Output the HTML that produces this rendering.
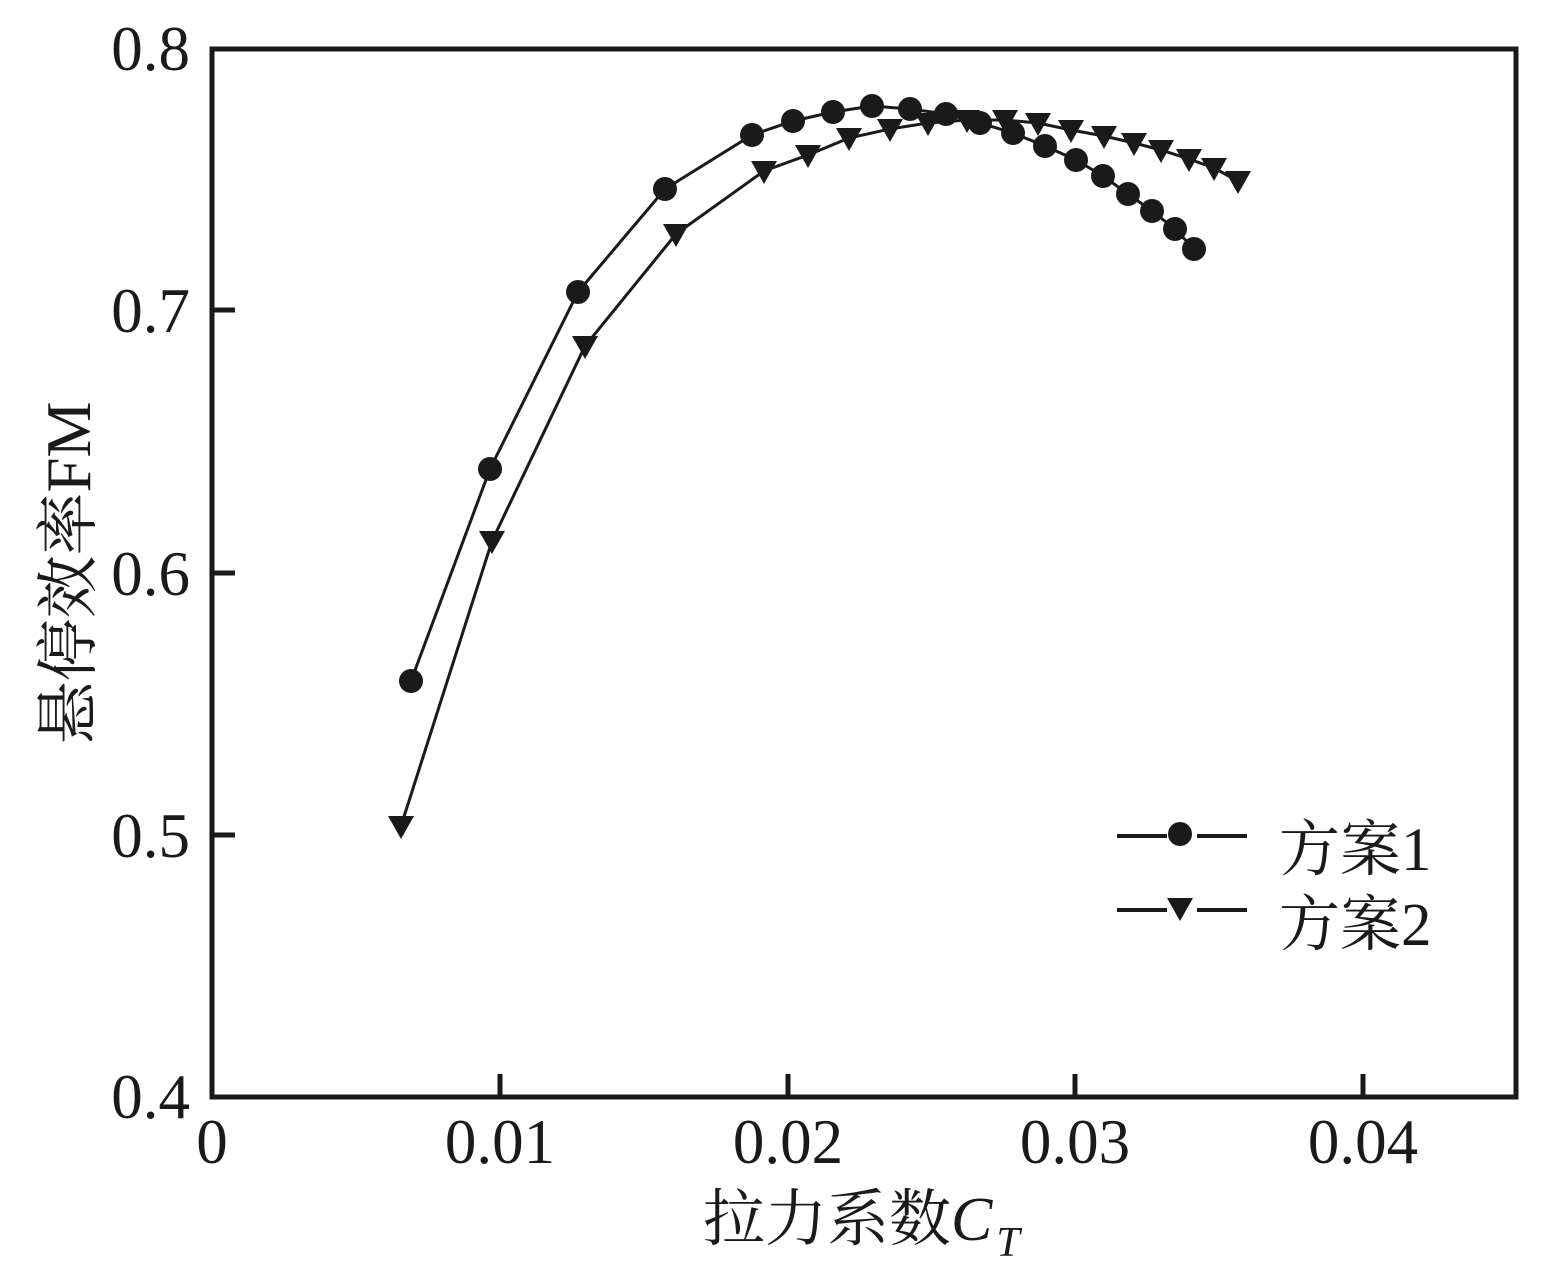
<!DOCTYPE html>
<html><head><meta charset="utf-8"><style>
html,body{margin:0;padding:0;background:#fff;}
svg text{font-family:"Liberation Serif","Noto Serif CJK SC",serif;fill:#1a1a1a;}
</style></head><body>
<svg width="1567" height="1282" viewBox="0 0 1567 1282" xmlns="http://www.w3.org/2000/svg">
<rect x="212" y="49" width="1304" height="1048" fill="none" stroke="#1a1a1a" stroke-width="5"/>
<g stroke="#1a1a1a" stroke-width="5">
<line x1="500" y1="1097" x2="500" y2="1074"/>
<line x1="788" y1="1097" x2="788" y2="1074"/>
<line x1="1075" y1="1097" x2="1075" y2="1074"/>
<line x1="1363" y1="1097" x2="1363" y2="1074"/>
<line x1="212" y1="310" x2="235" y2="310"/>
<line x1="212" y1="573" x2="235" y2="573"/>
<line x1="212" y1="835" x2="235" y2="835"/>
</g>
<g font-size="63" text-anchor="end">
<text x="190" y="70">0.8</text>
<text x="190" y="332">0.7</text>
<text x="190" y="595">0.6</text>
<text x="190" y="857">0.5</text>
<text x="190" y="1118">0.4</text>
</g>
<g font-size="63" text-anchor="middle">
<text x="212" y="1163">0</text>
<text x="500" y="1163">0.01</text>
<text x="788" y="1163">0.02</text>
<text x="1075" y="1163">0.03</text>
<text x="1363" y="1163">0.04</text>
</g>
<text x="703" y="1240" font-size="62">拉力系数<tspan font-style="italic">C</tspan><tspan font-style="italic" font-size="42" dy="16" dx="4">T</tspan></text>
<text transform="translate(90,573) rotate(-90)" font-size="63" text-anchor="middle">悬停效率FM</text>
<polyline fill="none" stroke="#1a1a1a" stroke-width="3" points="411,681 490,469 578,292 665,189 752,135 793,121 833,112 872,106 910,109 946,114 980,123 1013,133 1045,146 1076,160 1103,176 1128,194 1152,211 1175,229 1194,249"/>
<polyline fill="none" stroke="#1a1a1a" stroke-width="3" points="401,826 492,541 585,346 676,234 764,171 808,155 849,138 890,129 928,123 967,120 1005,120 1038,123 1071,130 1104,136 1134,143 1161,150 1189,159 1214,168 1238,181"/>
<g fill="#1a1a1a">
<circle cx="411" cy="681" r="12"/><circle cx="490" cy="469" r="12"/><circle cx="578" cy="292" r="12"/><circle cx="665" cy="189" r="12"/><circle cx="752" cy="135" r="12"/><circle cx="793" cy="121" r="12"/><circle cx="833" cy="112" r="12"/><circle cx="872" cy="106" r="12"/><circle cx="910" cy="109" r="12"/><circle cx="946" cy="114" r="12"/><circle cx="980" cy="123" r="12"/><circle cx="1013" cy="133" r="12"/><circle cx="1045" cy="146" r="12"/><circle cx="1076" cy="160" r="12"/><circle cx="1103" cy="176" r="12"/><circle cx="1128" cy="194" r="12"/><circle cx="1152" cy="211" r="12"/><circle cx="1175" cy="229" r="12"/><circle cx="1194" cy="249" r="12"/>
</g>
<g fill="#1a1a1a">
<path d="M-13,-10 L13,-10 L0,13 Z" transform="translate(401,826)"/>
<path d="M-13,-10 L13,-10 L0,13 Z" transform="translate(492,541)"/>
<path d="M-13,-10 L13,-10 L0,13 Z" transform="translate(585,346)"/>
<path d="M-13,-10 L13,-10 L0,13 Z" transform="translate(676,234)"/>
<path d="M-13,-10 L13,-10 L0,13 Z" transform="translate(764,171)"/>
<path d="M-13,-10 L13,-10 L0,13 Z" transform="translate(808,155)"/>
<path d="M-13,-10 L13,-10 L0,13 Z" transform="translate(849,138)"/>
<path d="M-13,-10 L13,-10 L0,13 Z" transform="translate(890,129)"/>
<path d="M-13,-10 L13,-10 L0,13 Z" transform="translate(928,123)"/>
<path d="M-13,-10 L13,-10 L0,13 Z" transform="translate(967,120)"/>
<path d="M-13,-10 L13,-10 L0,13 Z" transform="translate(1005,120)"/>
<path d="M-13,-10 L13,-10 L0,13 Z" transform="translate(1038,123)"/>
<path d="M-13,-10 L13,-10 L0,13 Z" transform="translate(1071,130)"/>
<path d="M-13,-10 L13,-10 L0,13 Z" transform="translate(1104,136)"/>
<path d="M-13,-10 L13,-10 L0,13 Z" transform="translate(1134,143)"/>
<path d="M-13,-10 L13,-10 L0,13 Z" transform="translate(1161,150)"/>
<path d="M-13,-10 L13,-10 L0,13 Z" transform="translate(1189,159)"/>
<path d="M-13,-10 L13,-10 L0,13 Z" transform="translate(1214,168)"/>
<path d="M-13,-10 L13,-10 L0,13 Z" transform="translate(1238,181)"/>
</g>
<g stroke="#1a1a1a" stroke-width="4">
<line x1="1117" y1="836" x2="1167" y2="836"/><line x1="1197" y1="836" x2="1247" y2="836"/>
<line x1="1117" y1="910" x2="1167" y2="910"/><line x1="1197" y1="910" x2="1247" y2="910"/>
</g>
<circle cx="1180" cy="834" r="12" fill="#1a1a1a"/>
<path d="M-13,-10 L13,-10 L0,13 Z" transform="translate(1180,908)" fill="#1a1a1a"/>
<text x="1279" y="870" font-size="61">方案1</text>
<text x="1279" y="945" font-size="61">方案2</text>
</svg>
</body></html>
